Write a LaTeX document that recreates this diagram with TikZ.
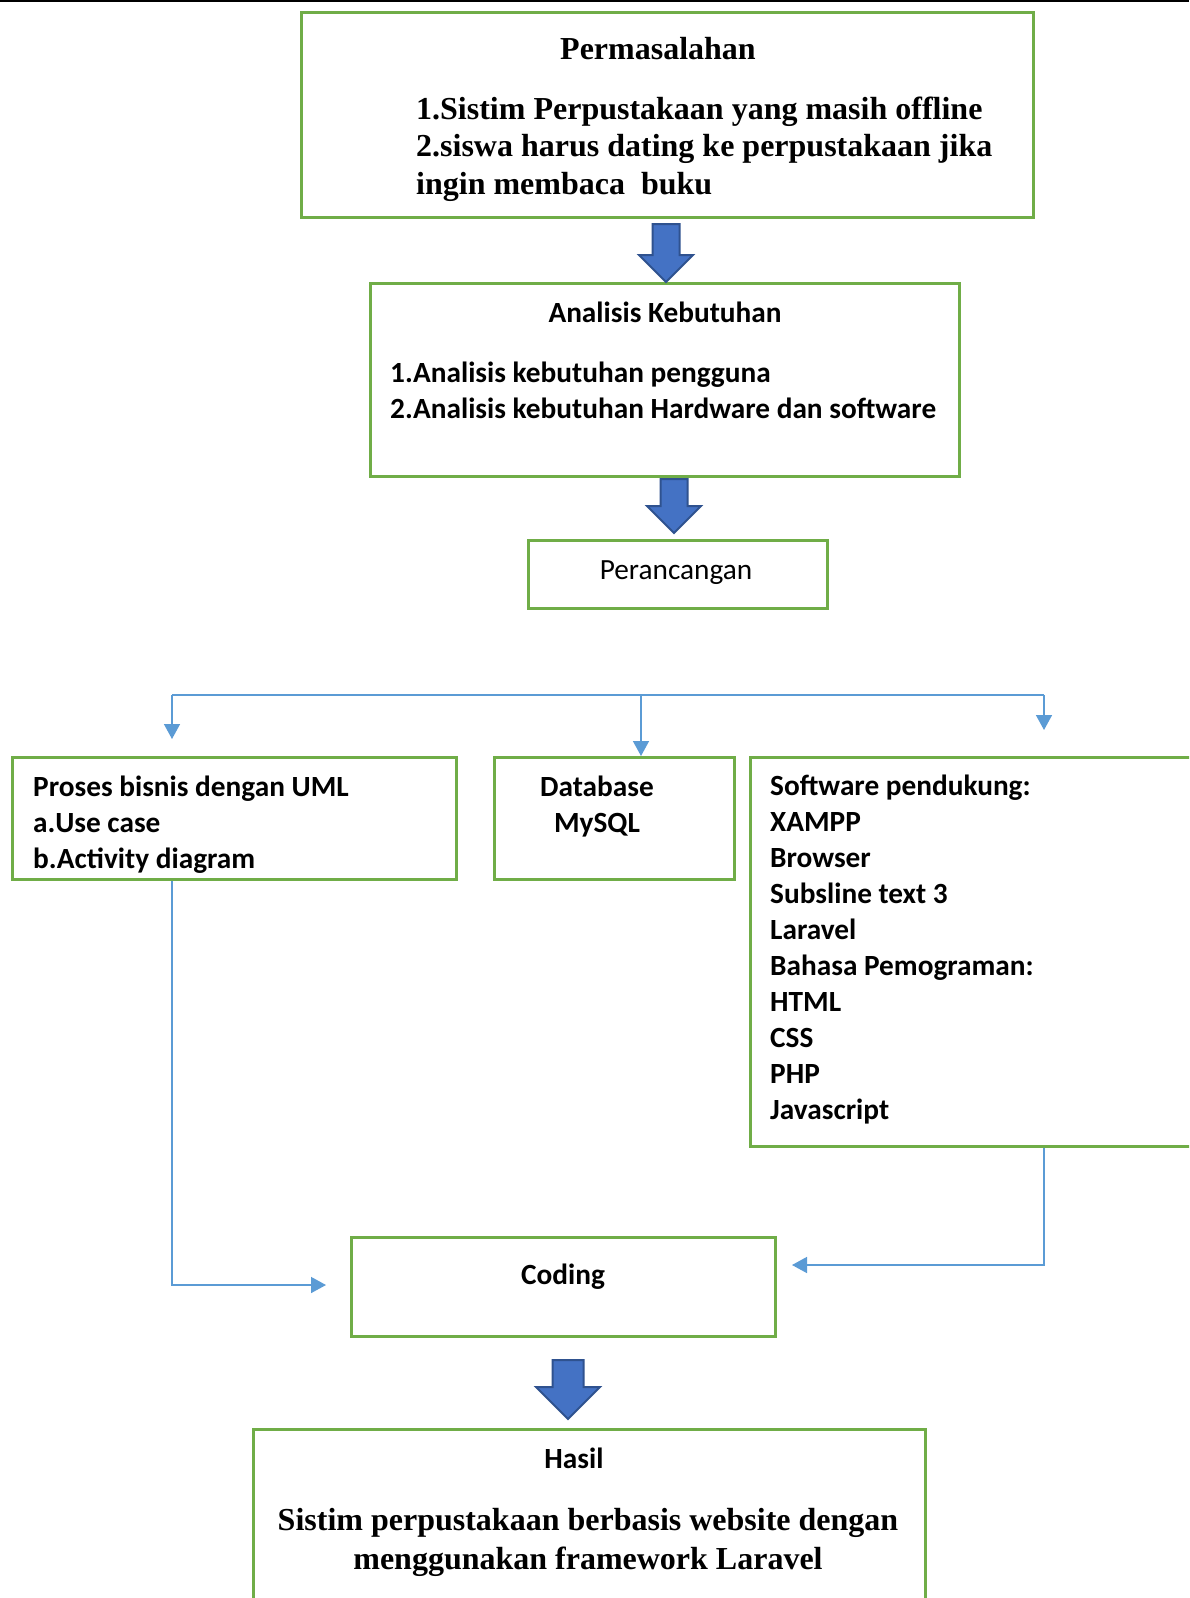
\documentclass[tikz,border=0pt]{standalone}
\usepackage{fontspec}
\usepackage{xcolor}
\usetikzlibrary{positioning,arrows.meta,shapes.arrows}
\newfontfamily\calfont{Carlito}
\newfontfamily\tnrfont{Liberation Serif}
\definecolor{boxgreen}{HTML}{70AD47}
\definecolor{linkblue}{HTML}{5B9BD5}
\definecolor{arrowfill}{HTML}{4472C4}
\definecolor{arrowedge}{HTML}{2F528F}

\begin{document}
\begin{tikzpicture}[
    x=1pt, y=-1pt,
    box/.style={draw=boxgreen, line width=2.5pt, inner sep=0pt, anchor=north west},
    txt/.style={inner sep=0pt, font=\fontsize{29.3}{36}\calfont\bfseries},
    serif/.style={inner sep=0pt, font=\fontsize{32}{37.5}\tnrfont\bfseries},
    bigarrow/.style={single arrow, draw=arrowedge, fill=arrowfill, line width=2pt, rotate=-90, anchor=tail, inner xsep=0pt, inner ysep=12.5pt, single arrow head extend=13.5pt},
    link/.style={draw=linkblue, line width=1.5pt},
    arrow/.style={link, -{Triangle[length=15pt, width=16pt]}}
]
\useasboundingbox (0,0) rectangle (1189,1598);
\fill[white] (0,0) rectangle (1189,1598);
\clip (0,0) rectangle (1189,1598);
\draw[line width=2.5pt] (0,1) -- (1189,1);

% texts (multi-line nodes sit on their last baseline)
\node[serif, anchor=base] (problemTitle) at (658,59) {Permasalahan};
\node[serif, align=left, anchor=base west] (problemList) at (416,194) {1.Sistim Perpustakaan yang masih offline\\2.siswa harus dating ke perpustakaan jika\\ingin membaca\ \ buku};
\node[txt, anchor=base] (needsTitle) at (665,322) {Analisis Kebutuhan};
\node[txt, align=left, anchor=base west] (needsList) at (390,418) {1.Analisis kebutuhan pengguna\\2.Analisis kebutuhan Hardware dan software};
\node[txt, font=\fontsize{29.3}{36}\calfont, anchor=base] (designText) at (676,579) {Perancangan};
\node[txt, align=left, anchor=base west] (umlText) at (33,868) {Proses bisnis dengan UML\\a.Use case\\b.Activity diagram};
\node[txt, align=center, anchor=base] (dbText) at (597,832) {Database\\MySQL};
\node[txt, align=left, anchor=base west] (softText) at (770,1119) {Software pendukung:\\XAMPP\\Browser\\Subsline text 3\\Laravel\\Bahasa Pemograman:\\HTML\\CSS\\PHP\\Javascript};
\node[txt, anchor=base] (codeText) at (563,1284) {Coding};
\node[txt, anchor=base] (resultTitle) at (574,1468) {Hasil};
\node[serif, font=\fontsize{32}{39}\tnrfont\bfseries, align=center, anchor=base] (resultText) at (588,1569) {Sistim perpustakaan berbasis website dengan\\menggunakan framework Laravel};

% boxes
\node[box, minimum width=732pt, minimum height=205pt] (problem) at (300,11) {};
\node[box, minimum width=589pt, minimum height=193pt] (needs) at (369,282) {};
\node[box, minimum width=299pt, minimum height=68pt] (design) at (527,539) {};
\node[box, minimum width=444pt, minimum height=122pt] (uml) at (11,756) {};
\node[box, minimum width=240pt, minimum height=122pt] (db) at (493,756) {};
\node[box, minimum width=470pt, minimum height=389pt] (soft) at (749,756) {};
\node[box, minimum width=424pt, minimum height=99pt] (code) at (350,1236) {};
\node[box, minimum width=672pt, minimum height=200pt] (result) at (252,1428) {};

% block arrows
\node[bigarrow, minimum height=58pt] (down1) at (666,223) {};
\node[bigarrow, minimum height=54pt] (down2) at (674,478) {};
\node[bigarrow, minimum height=59pt, inner ysep=14.5pt, single arrow head extend=16.5pt] (down3) at (568,1359) {};

% connectors
\coordinate (busL) at (172,695);
\coordinate (busM) at (641,695);
\coordinate (busR) at (1044,695);
\coordinate (umlIn) at (172,739);
\coordinate (softIn) at (1044,730);
\coordinate (codeInL) at (326,1285);
\coordinate (codeInR) at (792,1265);
\draw[link] (busL) -- (busR);
\draw[arrow] (busL) -- (umlIn);
\draw[arrow] (busM) -- (busM |- db.north);
\draw[arrow] (busR) -- (softIn);
\draw[arrow] (uml.south -| busL) |- (codeInL);
\draw[arrow] (soft.south -| busR) |- (codeInR);
\end{tikzpicture}
\end{document}
